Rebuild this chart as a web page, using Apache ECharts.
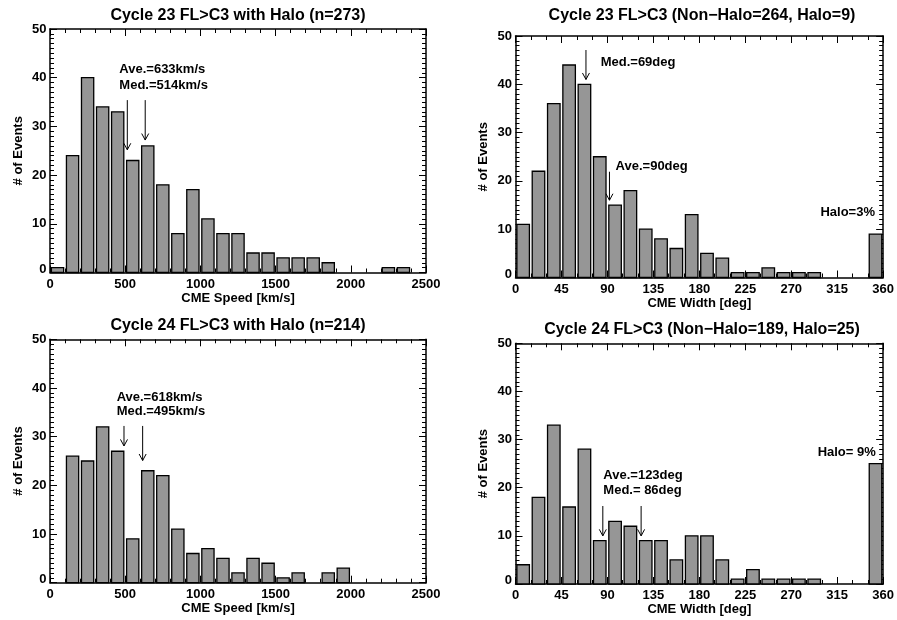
<!DOCTYPE html>
<html>
<head>
<meta charset="utf-8">
<script src="https://cdn.jsdelivr.net/npm/echarts@6/dist/echarts.min.js"></script>
<style>html,body{margin:0;padding:0;background:#fff;}#c{width:897px;height:620px;}</style>
</head>
<body>
<div id="c"></div>
<script>
// ---------------- DATA ----------------
const titles = [
  'Cycle 23 FL>C3 with Halo (n=273)',
  'Cycle 23 FL>C3 (Non\u2212Halo=264, Halo=9)',
  'Cycle 24 FL>C3 with Halo (n=214)',
  'Cycle 24 FL>C3 (Non\u2212Halo=189, Halo=25)'
];
const xNames = ['CME Speed [km/s]', 'CME Width [deg]', 'CME Speed [km/s]', 'CME Width [deg]'];
const yName = '# of Events';

// speed bins: 100 km/s wide starting at 0
const speed23 = [1, 24, 40, 34, 33, 23, 26, 18, 8, 17, 11, 8, 8, 4, 4, 3, 3, 3, 2, 0, 0, 0, 1, 1];
const speed24 = [0, 26, 25, 32, 27, 9, 23, 22, 11, 6, 7, 5, 2, 5, 4, 1, 2, 0, 2, 3, 0, 0, 0, 0];
// width bins: 15 deg wide starting at 0 (last bin = halo)
const width23 = [11, 22, 36, 44, 40, 25, 15, 18, 10, 8, 6, 13, 5, 4, 1, 1, 2, 1, 1, 1, 0, 0, 0, 9];
const width24 = [4, 18, 33, 16, 28, 9, 13, 12, 9, 9, 5, 10, 10, 5, 1, 3, 1, 1, 1, 1, 0, 0, 0, 25];

const speedTicks = [0, 500, 1000, 1500, 2000, 2500];
const widthTicks = [0, 45, 90, 135, 180, 225, 270, 315, 360];
const countTicks = [0, 10, 20, 30, 40, 50];

// arrows: [x, yTop, yTip]
const arrows23s = [[514, 35.4, 25.2], [633, 35.4, 27.2]];
const arrows24s = [[492, 32.2, 28.1], [616, 32.2, 25.1]];
const arrows23w = [[69, 47.1, 41.0], [92, 21.9, 16.0]];
const arrows24w = [[85.5, 16.2, 10.0], [123, 16.2, 10.0]];

// labels: [x, y, text, align]
const labels23s = [[461, 41.6, 'Ave.=633km/s', 'left'], [461, 38.5, 'Med.=514km/s', 'left']];
const labels24s = [[443, 38.0, 'Ave.=618km/s', 'left'], [443, 35.1, 'Med.=495km/s', 'left']];
const labels23w = [[83.4, 44.5, 'Med.=69deg', 'left'], [98, 23.1, 'Ave.=90deg', 'left'], [352, 13.4, 'Halo=3%', 'right']];
const labels24w = [[86, 22.5, 'Ave.=123deg', 'left'], [86, 19.5, 'Med.= 86deg', 'left'], [352.8, 27.4, 'Halo= 9%', 'right']];

// ---------------- CHART ----------------
const FONT = "'Liberation Sans', Arial, Helvetica, sans-serif";
const panels = [
  { grid: {left: 50, top: 29, width: 376, height: 243.5}, bins: speed23, binW: 100, ticks: speedTicks, minorN: 5, arrows: arrows23s, labels: labels23s, titleXY: [238, 15.5], nameGapY: 25 },
  { grid: {left: 515.5, top: 36, width: 372.5, height: 241.5}, bins: width23, binW: 15, ticks: widthTicks, minorN: 3, arrows: arrows23w, labels: labels23w, titleXY: [702, 16], nameGapY: 25.5 },
  { grid: {left: 50, top: 339.3, width: 376, height: 243.4}, bins: speed24, binW: 100, ticks: speedTicks, minorN: 5, arrows: arrows24s, labels: labels24s, titleXY: [238, 326], nameGapY: 25 },
  { grid: {left: 515.5, top: 343.3, width: 372, height: 240.7}, bins: width24, binW: 15, ticks: widthTicks, minorN: 3, arrows: arrows24w, labels: labels24w, titleXY: [702, 330], nameGapY: 25.5 }
];

const grids = [], xAxes = [], yAxes = [], series = [], graphics = [];
const lineStyle = {color: '#000', width: 1.5};

panels.forEach((p, i) => {
  grids.push(p.grid);
  const t = p.ticks;
  const xMin = t[0], xMax = t[t.length - 1], xInt = t[1] - t[0];
  const yMin = countTicks[0], yMax = countTicks[countTicks.length - 1], yInt = countTicks[1] - countTicks[0];
  const xBase = {
    gridIndex: i, type: 'value', min: xMin, max: xMax, interval: xInt,
    axisLine: {show: true, onZero: false, lineStyle},
    axisTick: {show: true, inside: true, length: 7, lineStyle: {color: '#000', width: 1}},
    minorTick: {show: true, splitNumber: p.minorN, length: 4, lineStyle: {color: '#000', width: 1}},
    splitLine: {show: false}
  };
  xAxes.push(Object.assign({}, xBase, {
    position: 'bottom',
    axisLabel: {show: true, margin: 5, color: '#000', fontFamily: FONT, fontWeight: 'bold', fontSize: 13, formatter: v => String(v)},
    name: xNames[i], nameLocation: 'middle', nameGap: 19,
    nameTextStyle: {color: '#000', fontFamily: FONT, fontWeight: 'bold', fontSize: 13}
  }));
  xAxes.push(Object.assign({}, xBase, {position: 'top', axisLabel: {show: false}}));
  const yBase = {
    gridIndex: i, type: 'value', min: yMin, max: yMax, interval: yInt,
    axisLine: {show: true, onZero: false, lineStyle},
    axisTick: {show: true, inside: true, length: 7, lineStyle: {color: '#000', width: 1}},
    minorTick: {show: true, splitNumber: 10, length: 4, lineStyle: {color: '#000', width: 1}},
    splitLine: {show: false}
  };
  yAxes.push(Object.assign({}, yBase, {
    position: 'left',
    axisLabel: {
      show: true, margin: 3.5, color: '#000', fontFamily: FONT, fontWeight: 'bold', fontSize: 13,
      formatter: v => v === 0 ? '{z|0}' : String(v),
      rich: {z: {padding: [0, 0, 7, 0], color: '#000', fontFamily: FONT, fontWeight: 'bold', fontSize: 13}}
    },
    name: yName, nameLocation: 'middle', nameGap: p.nameGapY, nameRotate: 90,
    nameTextStyle: {color: '#000', fontFamily: FONT, fontWeight: 'bold', fontSize: 13}
  }));
  yAxes.push(Object.assign({}, yBase, {position: 'right', axisLabel: {show: false}}));

  const xi = 2 * i, yi = 2 * i;
  // histogram bars
  series.push({
    type: 'custom', xAxisIndex: xi, yAxisIndex: yi, z: 3,
    data: p.bins.map((c, k) => [k * p.binW, (k + 1) * p.binW, c]),
    encode: {x: [0, 1], y: 2},
    renderItem: (params, api) => {
      const c = api.value(2);
      if (!c) return null;
      const a = api.coord([api.value(0), 0]);
      const b = api.coord([api.value(1), c]);
      return {
        type: 'rect',
        shape: {x: a[0] + 1.4, y: b[1], width: b[0] - a[0] - 2.8, height: a[1] - b[1]},
        style: {fill: '#969696', stroke: '#000', lineWidth: 1.3}
      };
    }
  });
  // arrows
  series.push({
    type: 'custom', xAxisIndex: xi, yAxisIndex: yi, z: 4,
    data: p.arrows,
    encode: {x: 0, y: [1, 2]},
    renderItem: (params, api) => {
      const top = api.coord([api.value(0), api.value(1)]);
      const tip = api.coord([api.value(0), api.value(2)]);
      return {
        type: 'group',
        children: [
          {type: 'line', shape: {x1: top[0], y1: top[1], x2: tip[0], y2: tip[1]}, style: {stroke: '#000', lineWidth: 1}},
          {type: 'polyline', shape: {points: [[tip[0] - 3.5, tip[1] - 6.5], [tip[0], tip[1]], [tip[0] + 3.5, tip[1] - 6.5]]}, style: {stroke: '#000', lineWidth: 1, fill: null}}
        ]
      };
    }
  });
  // text annotations
  const labs = p.labels;
  series.push({
    type: 'custom', xAxisIndex: xi, yAxisIndex: yi, z: 5,
    data: labs.map(l => [l[0], l[1]]),
    encode: {x: 0, y: 1},
    renderItem: (params, api) => {
      const l = labs[params.dataIndex];
      const pt = api.coord([api.value(0), api.value(1)]);
      return {
        type: 'text', x: pt[0], y: pt[1],
        style: {
          text: l[2], fill: '#000', font: 'bold 13px ' + FONT,
          align: l[3], verticalAlign: 'middle', textAlign: l[3], textVerticalAlign: 'middle'
        }
      };
    }
  });
  graphics.push({
    type: 'text', x: p.titleXY[0], y: p.titleXY[1], z: 10,
    style: {text: titles[i], fill: '#000', font: 'bold 16px ' + FONT, align: 'center', verticalAlign: 'middle', textAlign: 'center', textVerticalAlign: 'middle'}
  });
});

const chart = echarts.init(document.getElementById('c'), null, {renderer: 'canvas'});
chart.setOption({
  animation: false,
  backgroundColor: '#fff',
  grid: grids,
  xAxis: xAxes,
  yAxis: yAxes,
  series: series,
  graphic: graphics
});
</script>
</body>
</html>
